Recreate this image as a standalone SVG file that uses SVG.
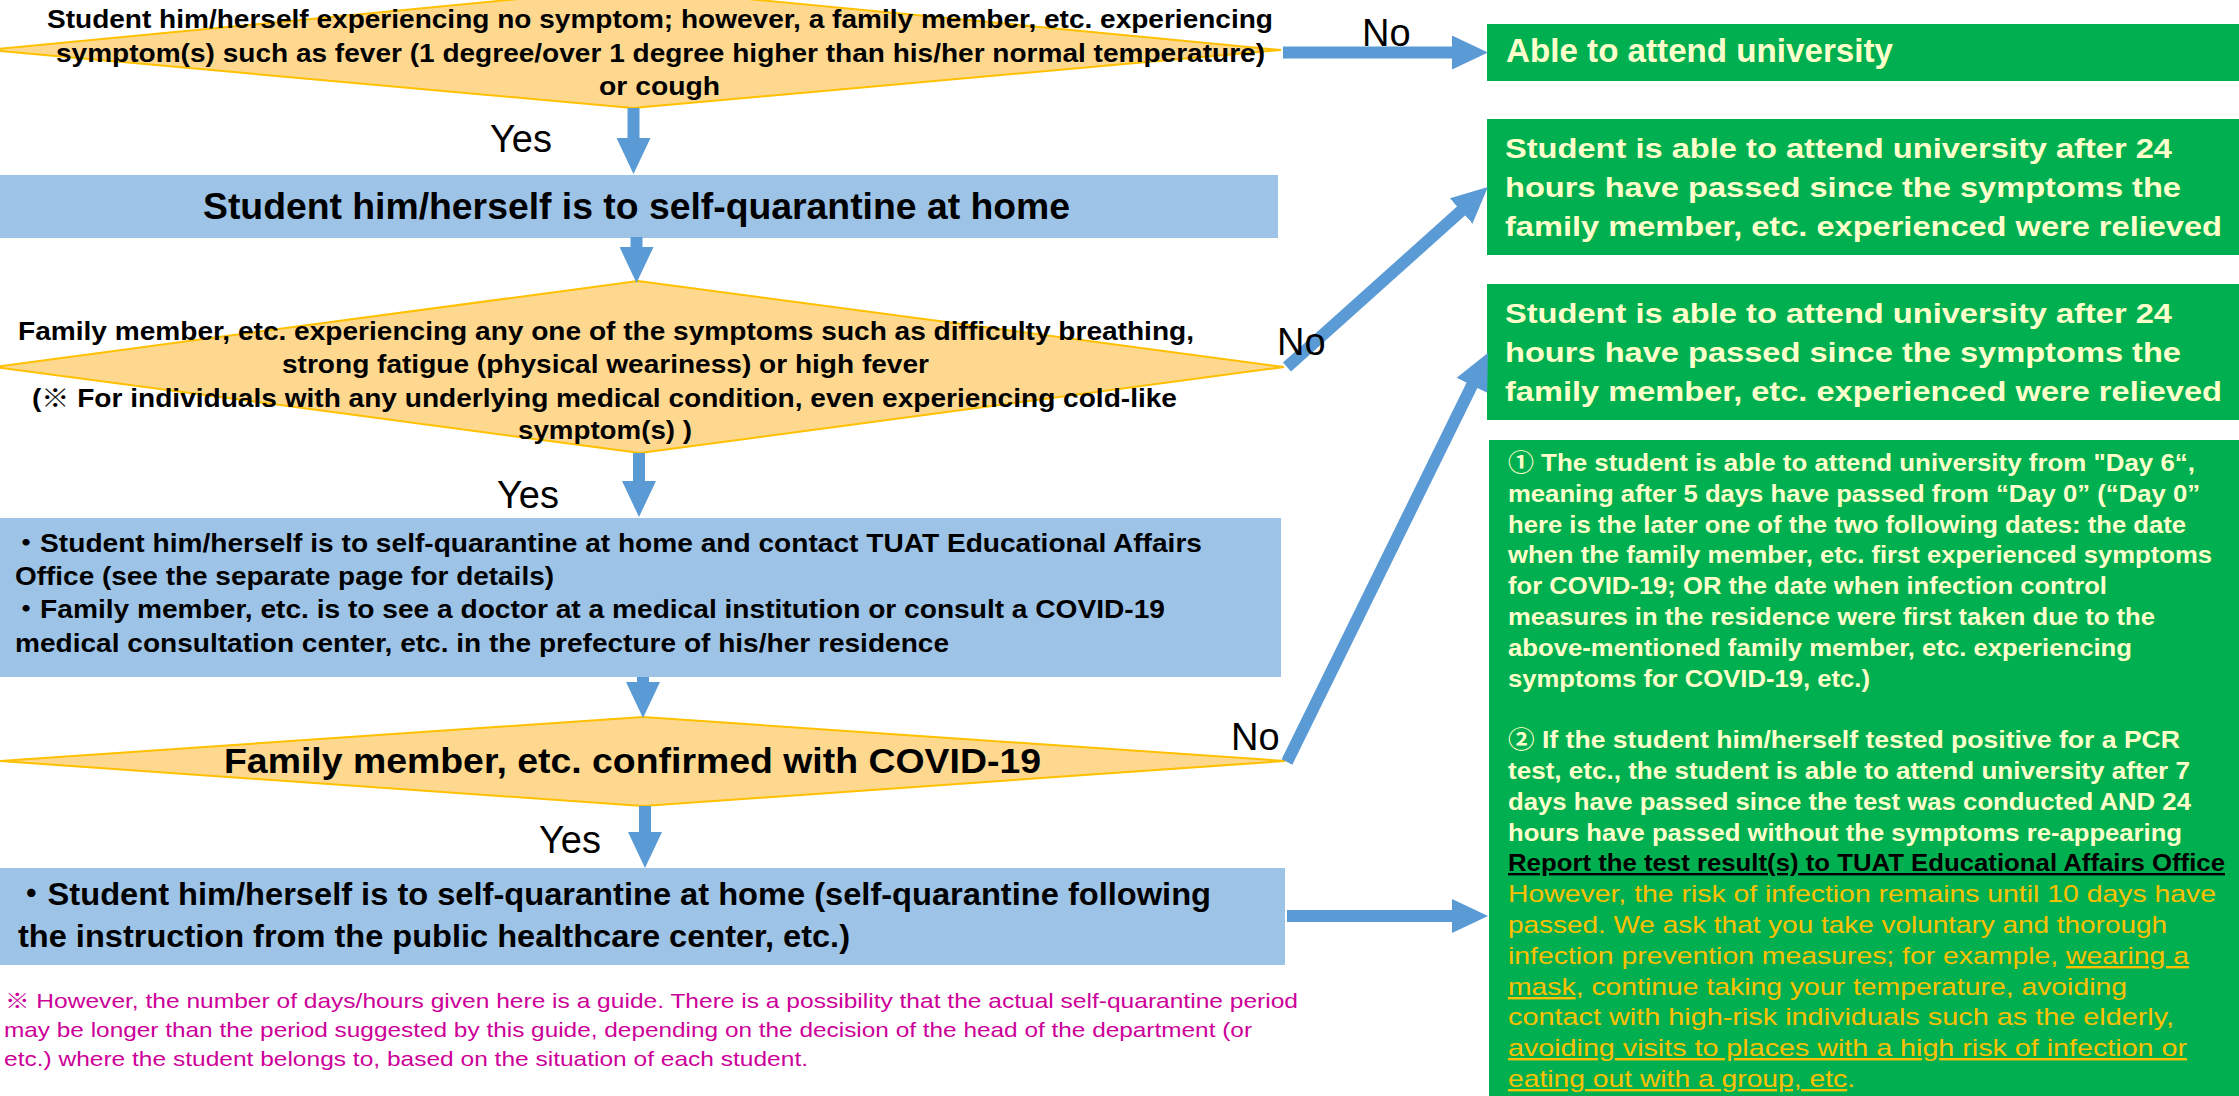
<svg xmlns="http://www.w3.org/2000/svg" width="2239" height="1096" viewBox="0 0 2239 1096">
<style>
text{font-family:"Liberation Sans",Arial,"Noto Sans CJK JP",sans-serif;fill:#000}
.b{font-weight:bold}
.dia{fill:#FFD88F;stroke:#FFC000;stroke-width:2}
.blue{fill:#9DC3E6}
.green{fill:#00B050}
.arrow{stroke:#5B9BD5;stroke-width:12;fill:none;marker-end:url(#ah)}
.lbl{font-size:38px}
.cream{fill:#FFFFCC}
.org{fill:#FFC000}
.u{text-decoration:underline}
.note{font-size:21px;fill:#CC0099}
</style>
<defs>
<marker id="ah" markerUnits="userSpaceOnUse" markerWidth="36" markerHeight="34" refX="16" refY="17" orient="auto" viewBox="0 0 36 34">
<path d="M0,0 L36,17 L0,34 z" fill="#5B9BD5"/>
</marker>
</defs>

<g id="d1">
<polygon class="dia" points="633,-12 1281,50 633,108 -12,50"/>
<text class="b" font-size="26"><tspan x="47" y="28" textLength="1226" lengthAdjust="spacingAndGlyphs">Student him/herself experiencing no symptom; however, a family member, etc. experiencing</tspan><tspan x="56" y="62" textLength="1209" lengthAdjust="spacingAndGlyphs">symptom(s) such as fever (1 degree/over 1 degree higher than his/her normal temperature)</tspan><tspan x="599" y="95" textLength="121" lengthAdjust="spacingAndGlyphs">or cough</tspan></text>
</g>

<g id="attend">
<rect class="green" x="1487" y="24" width="752" height="57"/>
<text class="b cream" font-size="33" x="1506" y="62" textLength="387" lengthAdjust="spacingAndGlyphs">Able to attend university</text>
</g>

<g id="box1">
<rect class="blue" x="0" y="175" width="1278" height="63"/>
<text class="b" font-size="36" x="203" y="219" textLength="867" lengthAdjust="spacingAndGlyphs">Student him/herself is to self-quarantine at home</text>
</g>

<g id="d2">
<polygon class="dia" points="638,281 1284,367 640,453 -5,367"/>
<text class="b" font-size="25"><tspan x="18" y="340" textLength="1176" lengthAdjust="spacingAndGlyphs">Family member, etc. experiencing any one of the symptoms such as difficulty breathing,</tspan><tspan x="282" y="373" textLength="647" lengthAdjust="spacingAndGlyphs">strong fatigue (physical weariness) or high fever</tspan><tspan x="32" y="407" textLength="1145" lengthAdjust="spacingAndGlyphs">(※ For individuals with any underlying medical condition, even experiencing cold-like</tspan><tspan x="518" y="439" textLength="174" lengthAdjust="spacingAndGlyphs">symptom(s) )</tspan></text>
</g>

<g id="relieved1">
<rect class="green" x="1487" y="119" width="752" height="136"/>
<text class="b cream" font-size="28"><tspan x="1505" y="158" textLength="667" lengthAdjust="spacingAndGlyphs">Student is able to attend university after 24</tspan><tspan x="1505" y="197" textLength="676" lengthAdjust="spacingAndGlyphs">hours have passed since the symptoms the</tspan><tspan x="1505" y="236" textLength="717" lengthAdjust="spacingAndGlyphs">family member, etc. experienced were relieved</tspan></text>
</g>

<g id="relieved2">
<rect class="green" x="1487" y="284" width="752" height="136"/>
<text class="b cream" font-size="28"><tspan x="1505" y="323" textLength="667" lengthAdjust="spacingAndGlyphs">Student is able to attend university after 24</tspan><tspan x="1505" y="362" textLength="676" lengthAdjust="spacingAndGlyphs">hours have passed since the symptoms the</tspan><tspan x="1505" y="401" textLength="717" lengthAdjust="spacingAndGlyphs">family member, etc. experienced were relieved</tspan></text>
</g>

<g id="box2">
<rect class="blue" x="0" y="518" width="1281" height="159"/>
<text class="b" font-size="25"><tspan x="12" y="552" textLength="1190" lengthAdjust="spacingAndGlyphs">・Student him/herself is to self-quarantine at home and contact TUAT Educational Affairs</tspan><tspan x="15" y="585" textLength="539" lengthAdjust="spacingAndGlyphs">Office (see the separate page for details)</tspan><tspan x="12" y="618" textLength="1153" lengthAdjust="spacingAndGlyphs">・Family member, etc. is to see a doctor at a medical institution or consult a COVID-19</tspan><tspan x="15" y="652" textLength="934" lengthAdjust="spacingAndGlyphs">medical consultation center, etc. in the prefecture of his/her residence</tspan></text>
</g>

<g id="d3">
<polygon class="dia" points="643,717 1285,761 643,806 0,761"/>
<text class="b" font-size="35" x="224" y="773" textLength="817" lengthAdjust="spacingAndGlyphs">Family member, etc. confirmed with COVID-19</text>
</g>

<g id="box4">
<rect class="blue" x="0" y="868" width="1285" height="97"/>
<text class="b" font-size="32"><tspan x="15" y="905" textLength="1196" lengthAdjust="spacingAndGlyphs">・Student him/herself is to self-quarantine at home (self-quarantine following</tspan><tspan x="18" y="947" textLength="832" lengthAdjust="spacingAndGlyphs">the instruction from the public healthcare center, etc.)</tspan></text>
</g>

<g id="note">
<text class="note"><tspan x="5" y="1008" textLength="1293" lengthAdjust="spacingAndGlyphs">※ However, the number of days/hours given here is a guide. There is a possibility that the actual self-quarantine period</tspan><tspan x="4" y="1037" textLength="1248" lengthAdjust="spacingAndGlyphs">may be longer than the period suggested by this guide, depending on the decision of the head of the department (or</tspan><tspan x="4" y="1066" textLength="804" lengthAdjust="spacingAndGlyphs">etc.) where the student belongs to, based on the situation of each student.</tspan></text>
</g>

<g id="result">
<rect class="green" x="1489" y="440" width="750" height="656"/>
<g font-size="24">
<text class="b cream" x="1508" y="471" textLength="687" lengthAdjust="spacingAndGlyphs">① The student is able to attend university from "Day 6“,</text>
<text class="b cream" x="1508" y="502" textLength="692" lengthAdjust="spacingAndGlyphs">meaning after 5 days have passed from “Day 0” (“Day 0”</text>
<text class="b cream" x="1508" y="533" textLength="678" lengthAdjust="spacingAndGlyphs">here is the later one of the two following dates: the date</text>
<text class="b cream" x="1508" y="563" textLength="704" lengthAdjust="spacingAndGlyphs">when the family member, etc. first experienced symptoms</text>
<text class="b cream" x="1508" y="594" textLength="599" lengthAdjust="spacingAndGlyphs">for COVID-19; OR the date when infection control</text>
<text class="b cream" x="1508" y="625" textLength="647" lengthAdjust="spacingAndGlyphs">measures in the residence were first taken due to the</text>
<text class="b cream" x="1508" y="656" textLength="624" lengthAdjust="spacingAndGlyphs">above-mentioned family member, etc. experiencing</text>
<text class="b cream" x="1508" y="687" textLength="362" lengthAdjust="spacingAndGlyphs">symptoms for COVID-19, etc.)</text>
<text class="b cream" x="1508" y="748" textLength="672" lengthAdjust="spacingAndGlyphs">② If the student him/herself tested positive for a PCR</text>
<text class="b cream" x="1508" y="779" textLength="682" lengthAdjust="spacingAndGlyphs">test, etc., the student is able to attend university after 7</text>
<text class="b cream" x="1508" y="810" textLength="683" lengthAdjust="spacingAndGlyphs">days have passed since the test was conducted AND 24</text>
<text class="b cream" x="1508" y="841" textLength="674" lengthAdjust="spacingAndGlyphs">hours have passed without the symptoms re-appearing</text>
<text class="b u" x="1508" y="871" textLength="717" lengthAdjust="spacingAndGlyphs">Report the test result(s) to TUAT Educational Affairs Office</text>
<text class="org" x="1508" y="902" textLength="708" lengthAdjust="spacingAndGlyphs">However, the risk of infection remains until 10 days have</text>
<text class="org" x="1508" y="933" textLength="659" lengthAdjust="spacingAndGlyphs">passed. We ask that you take voluntary and thorough</text>
<text class="org" x="1508" y="964" textLength="681" lengthAdjust="spacingAndGlyphs">infection prevention measures; for example, <tspan class="u">wearing a</tspan></text>
<text class="org" x="1508" y="995" textLength="619" lengthAdjust="spacingAndGlyphs"><tspan class="u">mask</tspan>, continue taking your temperature, avoiding</text>
<text class="org" x="1508" y="1025" textLength="666" lengthAdjust="spacingAndGlyphs">contact with high-risk individuals such as the elderly,</text>
<text class="org u" x="1508" y="1056" textLength="679" lengthAdjust="spacingAndGlyphs">avoiding visits to places with a high risk of infection or</text>
<text class="org" x="1508" y="1087" textLength="347" lengthAdjust="spacingAndGlyphs"><tspan class="u">eating out with a group, etc</tspan>.</text>
</g>
</g>

<g id="connectors">
<path class="arrow" d="M633.5,108 L633.5,154"/>
<path class="arrow" d="M636.5,237 L636.5,263"/>
<path class="arrow" d="M639,453 L639,497"/>
<path class="arrow" d="M643,677 L643,698"/>
<path class="arrow" d="M645,806 L645,848"/>
<path class="arrow" d="M1283,52.5 L1468,52.5"/>
<path class="arrow" d="M1287,367 L1473,200.3"/>
<path class="arrow" d="M1287,762 L1479,371"/>
<path class="arrow" d="M1287,916 L1468,916"/>
<text class="lbl" x="490" y="152">Yes</text>
<text class="lbl" x="497" y="508">Yes</text>
<text class="lbl" x="539" y="853">Yes</text>
<text class="lbl" x="1362" y="46">No</text>
<text class="lbl" x="1277" y="355">No</text>
<text class="lbl" x="1231" y="750">No</text>
</g>
</svg>
